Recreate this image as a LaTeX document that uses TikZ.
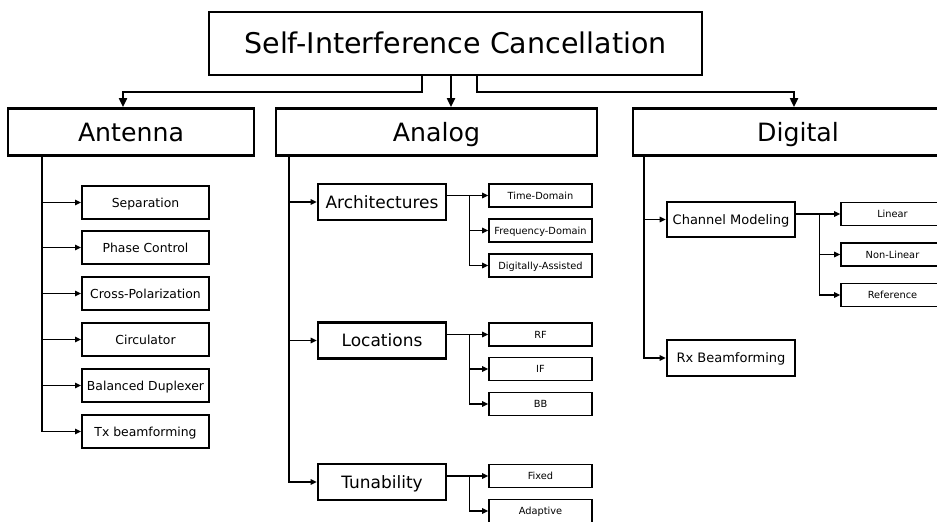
\documentclass[tikz,border=0pt]{standalone}
\usepackage{fontspec}
\setmainfont{DejaVu Sans}
\usetikzlibrary{arrows.meta}
\tikzset{
  rootbox/.style={draw, line width=2.8pt, inner sep=0pt, minimum width=493pt, minimum height=63pt,
    font=\fontsize{28.5}{34}\selectfont, text height=20.8pt, text depth=0pt},
  topbox/.style={draw, line width=2.8pt, inner sep=0pt, minimum height=47pt,
    font=\fontsize{25.2}{30}\selectfont, text height=18.4pt, text depth=0pt},
  subbox/.style={draw, line width=2.6pt, inner sep=0pt, minimum width=128pt, minimum height=36pt},
  anasub/.style={subbox, font=\fontsize{17}{20}\selectfont, text height=12.4pt, text depth=0pt},
  digsub/.style={subbox, font=\fontsize{13}{16}\selectfont, text height=9.5pt, text depth=0pt},
  antbox/.style={draw, line width=2pt, inner sep=0pt, minimum width=127pt, minimum height=33pt,
    font=\fontsize{12.4}{15}\selectfont, text height=9.05pt, text depth=0pt},
  leafbox/.style={draw, line width=1.6pt, inner sep=0pt, minimum width=103pt, minimum height=23pt,
    font=\fontsize{9.8}{12}\selectfont, text height=7.15pt, text depth=0pt},
  bigarr/.style={line width=2pt, -{Triangle[length=9pt,width=8pt]}},
  arr/.style={line width=1.6pt, -{Triangle[length=6pt,width=5.5pt]}},
}
\begin{document}
\begin{tikzpicture}[x=1pt, y=-1pt]
  \path[use as bounding box, fill=white] (0,0) rectangle (937,522);

  % top levels
  \node[rootbox] (sic) at (455.5,43.5) {Self-Interference Cancellation};
  \node[topbox, minimum width=246pt] (ant) at (131,132) {Antenna};
  \node[topbox, minimum width=321pt] (ana) at (436.5,132) {Analog};
  \node[topbox, minimum width=330pt] (dig) at (798,132) {Digital};

  \draw[bigarr] ([xshift=-33.5pt]sic.south) -- ++(0,16) -| ([xshift=-8pt]ant.north);
  \draw[bigarr] ([xshift=-4.5pt]sic.south) -- ([xshift=-4.5pt]sic.south |- ana.north);
  \draw[bigarr] ([xshift=21.5pt]sic.south) -- ++(0,16) -| ([xshift=-4pt]dig.north);

  % antenna
  \node[antbox] (sep) at (145.5,202.5) {Separation};
  \node[antbox] (pha) at (145.5,247.5) {Phase Control};
  \node[antbox] (cro) at (145.5,293.5) {Cross-Polarization};
  \node[antbox] (cir) at (145.5,339.5) {Circulator};
  \node[antbox] (bal) at (145.5,385.5) {Balanced Duplexer};
  \node[antbox] (txb) at (145.5,431.5) {Tx beamforming};
  \foreach \c in {sep,pha,cro,cir,bal,txb}
    \draw[arr] ([xshift=-89pt]ant.south) |- (\c.west);

  % analog
  \node[anasub] (arc) at (382,202) {Architectures};
  \node[anasub] (loc) at (382,340.5) {Locations};
  \node[anasub] (tun) at (382,482) {Tunability};
  \foreach \c in {arc,loc,tun}
    \draw[arr] ([xshift=-147.5pt]ana.south) |- (\c.west);

  \node[leafbox] (tdo) at (540.5,195.5) {Time-Domain};
  \node[leafbox] (fdo) at (540.5,230.5) {Frequency-Domain};
  \node[leafbox] (das) at (540.5,265.5) {Digitally-Assisted};
  \foreach \l in {tdo,fdo,das}
    \draw[arr] (arc.east |- tdo.west) -- ++(22,0) |- (\l.west);

  \node[leafbox] (rf) at (540.5,334.5) {RF};
  \node[leafbox] (if) at (540.5,369) {IF};
  \node[leafbox] (bb) at (540.5,404) {BB};
  \foreach \l in {rf,if,bb}
    \draw[arr] (loc.east |- rf.west) -- ++(22,0) |- (\l.west);

  \node[leafbox] (fix) at (540.5,476) {Fixed};
  \node[leafbox] (ada) at (540.5,511) {Adaptive};
  \foreach \l in {fix,ada}
    \draw[arr] (tun.east |- fix.west) -- ++(22,0) |- (\l.west);

  % digital
  \node[digsub, minimum height=35pt] (chm) at (731,219.5) {Channel Modeling};
  \node[digsub] (rxb) at (731,358) {Rx Beamforming};
  \foreach \c in {chm,rxb}
    \draw[arr] ([xshift=-154pt]dig.south) |- (\c.west);

  \node[leafbox] (lin) at (892.5,214) {Linear};
  \node[leafbox] (nli) at (892.5,254.5) {Non-Linear};
  \node[leafbox] (ref) at (892.5,295) {Reference};
  \foreach \l in {lin,nli,ref}
    \draw[arr] (chm.east |- lin.west) -- ++(23,0) |- (\l.west);
\end{tikzpicture}
\end{document}
